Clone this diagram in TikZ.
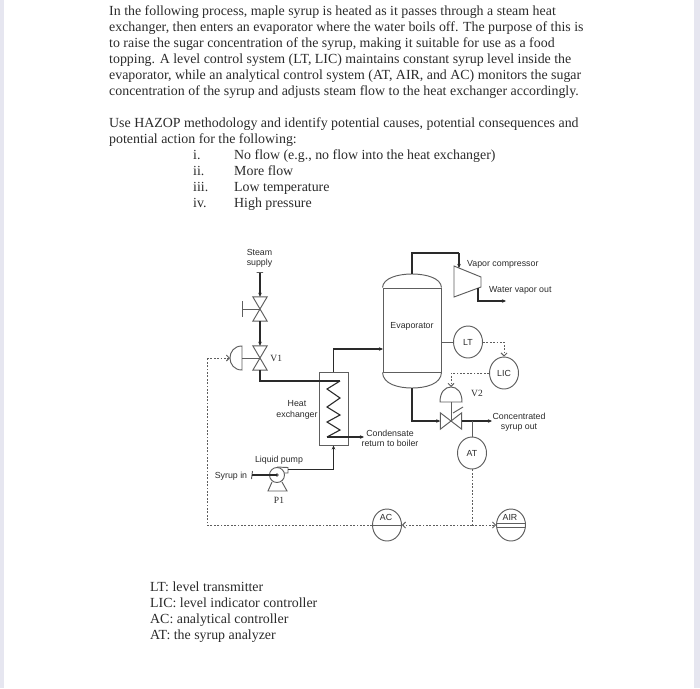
\documentclass[tikz,border=0pt]{standalone}
\usepackage{fontspec}
\setmainfont{Liberation Serif}
\newfontfamily\labelfont{Liberation Sans}
\usepackage{xcolor}
\usetikzlibrary{shapes.geometric,arrows.meta,positioning}
\definecolor{inkc}{HTML}{2A2A2A}
\definecolor{vesselc}{HTML}{5E5E5E}
\definecolor{edgec}{HTML}{E6E6F0}
\tikzset{
    txt/.style={anchor=north west, inner sep=0pt, align=left, text=inkc, font=\fontsize{13.9}{16}\selectfont},
    lab/.style={inner sep=0pt, align=center, text=inkc, font=\labelfont\fontsize{8.8}{10.5}\selectfont},
    tag/.style={inner sep=0pt, text=inkc, font=\fontsize{9.5}{11}\selectfont},
    vessel/.style={draw=vesselc, line width=0.95pt},
    pipe/.style={draw=inkc, line width=1.1pt},
    flow/.style={pipe, -{Stealth[length=4pt,width=3.5pt]}},
    signal/.style={draw=vesselc, line width=0.9pt, dash pattern=on 1.8pt off 1.6pt},
    sigend/.style={signal, -{Straight Barb[length=3pt,width=6pt]}},
    inst/.style={vessel, ellipse, minimum width=29pt, minimum height=32pt, inner sep=0pt, text=inkc, font=\labelfont\fontsize{8.8}{10}\selectfont},
    valvev/.style={inner sep=0pt, minimum width=14pt, minimum height=24pt},
    valveh/.style={inner sep=0pt, minimum width=21pt, minimum height=16pt},
}
\begin{document}
\begin{tikzpicture}[x=1pt, y=-1pt]
    \useasboundingbox (0,0) rectangle (700,688);
    \fill[edgec] (0,0) rectangle (4,688);
    \fill[edgec] (694,0) rectangle (700,688);

    % question text
    \node[txt] (para1) at (109,6) {In the following process, maple syrup is heated as it passes through a steam heat\\
        exchanger, then enters an evaporator where the water boils off. The purpose of this is\\
        to raise the sugar concentration of the syrup, making it suitable for use as a food\\
        topping. A level control system (LT, LIC) maintains constant syrup level inside the\\
        evaporator, while an analytical control system (AT, AIR, and AC) monitors the sugar\\
        concentration of the syrup and adjusts steam flow to the heat exchanger accordingly.};
    \node[txt] (para2) at (109,118) {Use HAZOP methodology and identify potential causes, potential consequences and\\
        potential action for the following:};
    \node[txt] (nums) at (193,150) {i.\\ ii.\\ iii.\\ iv.};
    \node[txt] (items) at (234,150) {No flow (e.g., no flow into the heat exchanger)\\ More flow\\ Low temperature\\ High pressure};
    \node[txt] (legend) at (150,582) {LT: level transmitter\\ LIC: level indicator controller\\ AC: analytical controller\\ AT: the syrup analyzer};

    % equipment
    \node[vessel, draw, rectangle, minimum width=58pt, minimum height=84pt] (evap) at (412,330) {};
    \node[lab] (evaplab) at (412,326) {Evaporator};
    \draw[vessel] (evap.north west) .. controls (383,278) and (398,274) .. (412,274) .. controls (426,274) and (441,278) .. (evap.north east);
    \draw[vessel] (evap.south west) .. controls (383,384) and (398,388) .. (412,388) .. controls (426,388) and (441,384) .. (evap.south east);
    \coordinate (evaptop) at (412,274);
    \coordinate (evapbot) at (412,388);
    \coordinate (evapin) at (383,349);

    \node[vessel, draw, rectangle, minimum width=29pt, minimum height=73pt] (hx) at (333.5,408.5) {};
    \draw[pipe] (340,381) coordinate (coiltop) -- (327,389) -- (340,398) -- (327,407) -- (340,415) -- (327,422) -- (340,430) -- (327,437) coordinate (coilbot);

    \draw[vessel] (454,266) coordinate (compin) -- (481,277) -- (481,287) -- (454,297) -- cycle;
    \coordinate (compup) at (459,253);
    \coordinate (compdrop) at (459,268);
    \coordinate (compout) at (478,288);

    % valves
    \node[valvev] (hv) at (260,309) {};
    \node[valvev] (v1) at (260,358) {};
    \node[valveh] (v2) at (451,421) {};
    \foreach \v in {hv,v1} {
        \draw[vessel] (\v.north west) -- (\v.south east) -- (\v.south west) -- (\v.north east) -- cycle;
    }
    \draw[vessel] (v2.north west) -- (v2.south east) -- (v2.north east) -- (v2.south west) -- cycle;
    \draw[vessel] (242,301) -- (242,317);
    \draw[vessel] (242,309) -- (hv.center);
    \draw[vessel] (242,346) .. controls (234,346) and (230,352) .. (230,358) .. controls (230,364) and (234,370) .. (242,370) -- cycle;
    \draw[vessel] (242,358) -- (v1.center);
    \coordinate (v1act) at (230,358);
    \draw[vessel] (440,402) -- (462,402) .. controls (462,392) and (457,387) .. (451,387) .. controls (445,387) and (440,392) .. (440,402) -- cycle;
    \draw[vessel] (451,402) -- (v2.center);
    \draw[vessel] (453,413) -- (463,407);
    \coordinate (v2act) at (451,387);

    % pump
    \node[vessel, draw, circle, minimum size=15pt, inner sep=0pt] (pump) at (277,475) {};
    \fill[vesselc] (pump.center) circle (1.8);
    \draw[vessel] (pump.north) -- (288,467.5) -- (288,473) -- (284,473);
    \draw[vessel] (272,482) -- (268,491) -- (287,491) -- (282,482);

    % instruments
    \node[inst] (lt) at (468,342) {LT};
    \node[inst] (lic) at (504,373) {LIC};
    \node[inst] (at) at (472,453) {AT};
    \node[inst] (ac) at (387,525) {};
    \node[inst] (air) at (511,525) {};
    \node[lab] (aclab) at (386,517) {AC};
    \node[lab] (airlab) at (510,517) {AIR};
    \draw[vessel] (ac.west) -- (ac.east);
    \draw[vessel] (496.6,523) -- (525.4,523);
    \draw[vessel] (496.6,527) -- (525.4,527);

    % process lines
    \coordinate (steamin) at (260,273);
    \draw[vessel] (256.5,272.5) .. controls (258,271) and (260,274) .. (263,272.5);
    \draw[flow] (steamin) -- (hv.north);
    \draw[flow] (hv.south) -- (v1.north);
    \draw[pipe] (v1.south) |- (coiltop);
    \draw[flow] (hx.north) |- (evapin);
    \draw[pipe] (evaptop) |- (compup);
    \draw[flow] (compup) -- (compdrop);
    \coordinate (wvout) at (506,301);
    \draw[flow] (compout) |- (wvout);
    \coordinate (condout) at (364,437);
    \draw[flow] (coilbot) -- (condout);
    \draw[flow] (evapbot) |- (v2.west);
    \coordinate (syrupout) at (492,421);
    \draw[flow] (v2.east) -- (syrupout);
    \coordinate (syrupin) at (252,475);
    \draw[vessel] (252.5,471) .. controls (251,474) and (253,476) .. (251.5,479);
    \draw[pipe] (syrupin) -- (pump.center);
    \draw[flow] (288,469.5) coordinate (pumpout) -| (hx.south);

    % instrument lines
    \draw[vessel] (lt -| evap.east) -- (lt.west);
    \coordinate (attap) at (472,421);
    \draw[vessel] (attap) -- (at.north);
    \draw[sigend] (lt.east) -| (lic.north);
    \draw[sigend] (lic.west) -| (v2act);
    \coordinate (sigjoin) at (472,525);
    \draw[signal] (at.south) -- (sigjoin);
    \draw[sigend] (sigjoin) -- (ac.east);
    \draw[sigend] (sigjoin) -- (air.west);
    \coordinate (sigcorner) at (207,525);
    \coordinate (sigtop) at (207,358);
    \draw[signal] (ac.west) -- (sigcorner) -- (sigtop);
    \draw[sigend] (sigtop) -- (v1act);

    % labels
    \node[lab] (steamlab) at (259.5,258.5) {Steam\\ supply};
    \node[tag, right=3pt of v1] (v1lab) {V1};
    \node[lab] (hxlab) at (297,410) {Heat\\ exchanger};
    \node[lab] (pumplab) at (279,460) {Liquid pump};
    \node[lab] (syruplab) at (231,476) {Syrup in};
    \node[tag] (p1lab) at (279,500) {P1};
    \node[lab] (condlab) at (390,438.5) {Condensate\\ return to boiler};
    \node[tag] (v2lab) at (477,393) {V2};
    \node[lab] (outlab) at (519,422) {Concentrated\\ syrup out};
    \node[lab, anchor=west] (complab) at (467,264) {Vapor compressor};
    \node[lab, anchor=west] (wvlab) at (489,290) {Water vapor out};
\end{tikzpicture}
\end{document}
